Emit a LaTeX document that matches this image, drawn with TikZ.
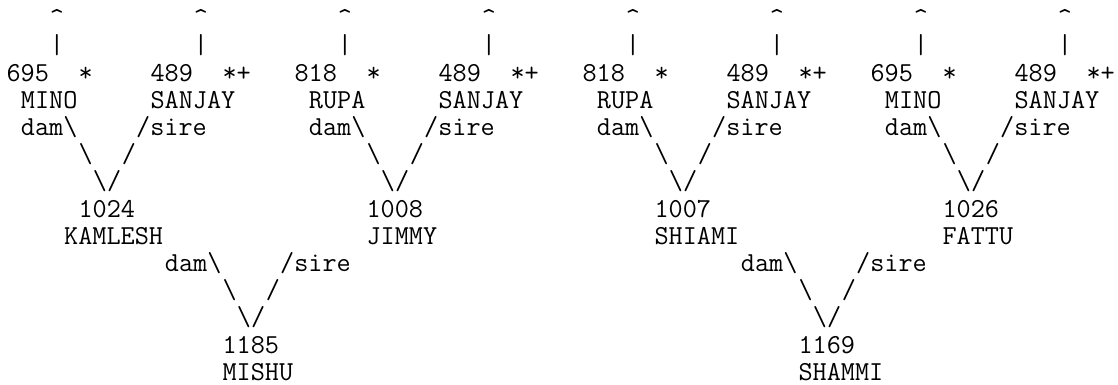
\documentclass[tikz,border=0pt]{standalone}
\usepackage{fontspec}
\usepackage{tikz}

\tikzset{
  txt/.style={inner sep=0pt, anchor=base west, font=\ttfamily\fontsize{20.57}{22}\selectfont},
}

\begin{document}
\begin{tikzpicture}[x=10.8pt, y=20.4pt]
    \useasboundingbox (-0.4375,0.98) rectangle (77.2,-13.17);

    % grandparents: start column / number / name / mark / name shift
    \foreach \b/\num/\nm/\mk/\sh in {0/695/MINO/*/1, 10/489/SANJAY/*+/0,
                                    20/818/RUPA/*/1, 30/489/SANJAY/*+/0,
                                    40/818/RUPA/*/1, 50/489/SANJAY/*+/0,
                                    60/695/MINO/*/1, 70/489/SANJAY/*+/0} {
        \node[txt] (up\b)  at (\b+3,0)  {\textasciicircum};
        \node[txt] (bar\b) at (\b+3,-1) {|};
        \node[txt] (num\b) at (\b,-2)   {\num};
        \node[txt] (mk\b)  at (\b+5,-2) {\mk};
        \node[txt] (nm\b)  at (\b+\sh,-3) {\nm};
    }

    % parents
    \foreach \g/\num/\nm/\sh in {0/1024/KAMLESH/4, 20/1008/JIMMY/5,
                                 40/1007/SHIAMI/5, 60/1026/FATTU/5} {
        \node[txt] (dam\g)  at (\g+1,-4) {dam\textbackslash};
        \node[txt] (sire\g) at (\g+9,-4) {/sire};
        \node[txt] (bl\g)   at (\g+5,-5) {\textbackslash};
        \node[txt] (fl\g)   at (\g+8,-5) {/};
        \node[txt] (vee\g)  at (\g+6,-6) {\textbackslash/};
        \node[txt] (pnum\g) at (\g+5,-7) {\num};
        \node[txt] (pnm\g)  at (\g+\sh,-8) {\nm};
    }

    % offspring
    \foreach \h/\num/\nm in {0/1185/MISHU, 40/1169/SHAMMI} {
        \node[txt] (odam\h)  at (\h+11,-9)  {dam\textbackslash};
        \node[txt] (osire\h) at (\h+19,-9)  {/sire};
        \node[txt] (obl\h)   at (\h+15,-10) {\textbackslash};
        \node[txt] (ofl\h)   at (\h+18,-10) {/};
        \node[txt] (ovee\h)  at (\h+16,-11) {\textbackslash/};
        \node[txt] (onum\h)  at (\h+15,-12) {\num};
        \node[txt] (onm\h)   at (\h+15,-13) {\nm};
    }
\end{tikzpicture}
\end{document}
